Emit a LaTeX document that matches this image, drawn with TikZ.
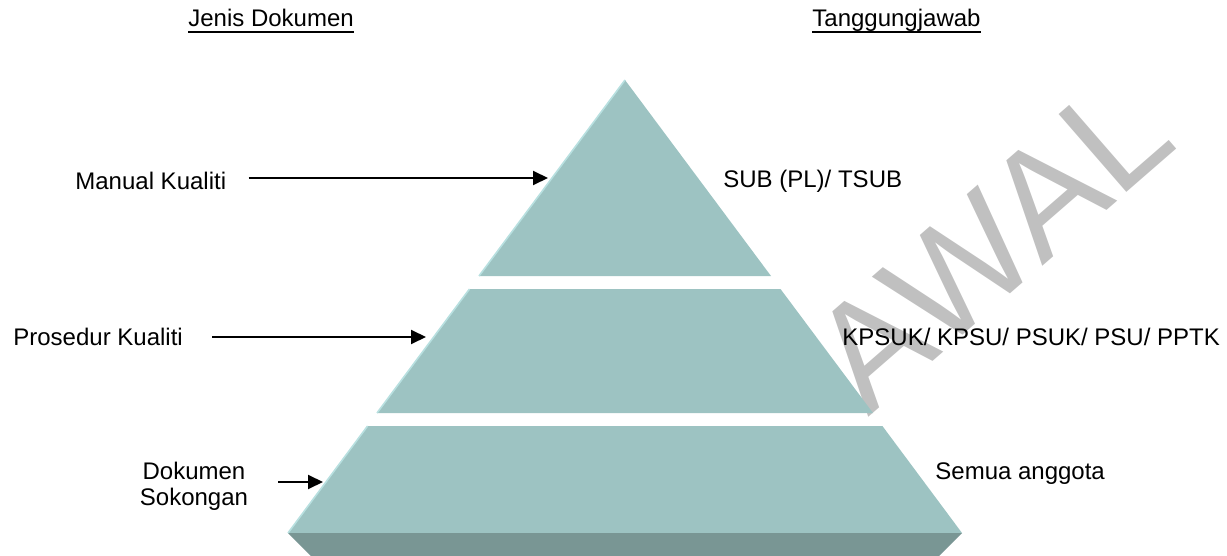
\documentclass[tikz,border=0pt]{standalone}
\usepackage{fontspec}
\setmainfont{Liberation Sans}
\usetikzlibrary{arrows.meta,positioning,calc}
\definecolor{tealface}{RGB}{157,195,194}
\definecolor{tealdark}{RGB}{121,150,148}
\definecolor{tealedge}{RGB}{184,224,224}
\definecolor{stampgray}{RGB}{192,192,192}
\tikzset{
  >={Triangle[length=7.5pt,width=7pt]},
  lbl/.style={inner sep=0pt,anchor=base west,font=\fontsize{12pt}{13pt}\selectfont},
  arr/.style={->,line width=1pt},
  tier/.style={fill=tealface},
  rim/.style={draw=tealedge,line width=0.8pt},
  stamp/.style={inner sep=0pt,anchor=base west,rotate=41,text=stampgray,font=\fontsize{75pt}{75pt}\selectfont}
}

\begin{document}
\begin{tikzpicture}[x=0.5pt,y=-0.5pt]
\useasboundingbox (0,0) rectangle (1227,556);
% watermark behind the pyramid
\node[stamp] (awal) at (868,418) {AWAL};
% pyramid tiers
\fill[tier] (625,80) -- (771,276) -- (479,276) -- cycle;
\fill[tier] (469.5,289) -- (780.5,289) -- (873,413) -- (377,413) -- cycle;
\fill[tier] (367.6,426) -- (882.4,426) -- (962,533) -- (288,533) -- cycle;
\fill[tealdark] (288,533) -- (962,533) -- (939,556) -- (311,556) -- cycle;
\draw[rim] (625,80) -- (479,276);
\draw[rim] (469.5,289) -- (377,413);
\draw[rim] (367.6,426) -- (288,533);
% headings
\node[lbl] (jd) at (188,27) {Jenis Dokumen};
\node[lbl] (tj) at (812,27) {Tanggungjawab};
\draw[line width=1pt] ([yshift=-2.5pt]jd.base west) -- ([yshift=-2.5pt]jd.base east);
\draw[line width=1pt] ([yshift=-2.5pt]tj.base west) -- ([yshift=-2.5pt]tj.base east);
% document types
\node[lbl] (mk) at (75,190) {Manual Kualiti};
\node[lbl] (pk) at (13,345) {Prosedur Kualiti};
\node[lbl,anchor=base,align=center] (ds) at (194,505) {Dokumen\\Sokongan};
% responsibilities
\node[lbl] (sub) at (723,188) {SUB (PL)/ TSUB};
\node[lbl] (kps) at (842,345) {KPSUK/ KPSU/ PSUK/ PSU/ PPTK};
\node[lbl] (sem) at (935,479) {Semua anggota};
% arrows to the tiers
\coordinate (mktip) at (548,178);
\coordinate (pktip) at (426,337);
\coordinate (dstip) at (323,482);
\draw[arr] (mktip -| mk.east) ++(22,0) -- (mktip);
\draw[arr] (pktip -| pk.east) ++(29,0) -- (pktip);
\draw[arr] (dstip -| ds.east) ++(30,0) -- (dstip);
\end{tikzpicture}
\end{document}
